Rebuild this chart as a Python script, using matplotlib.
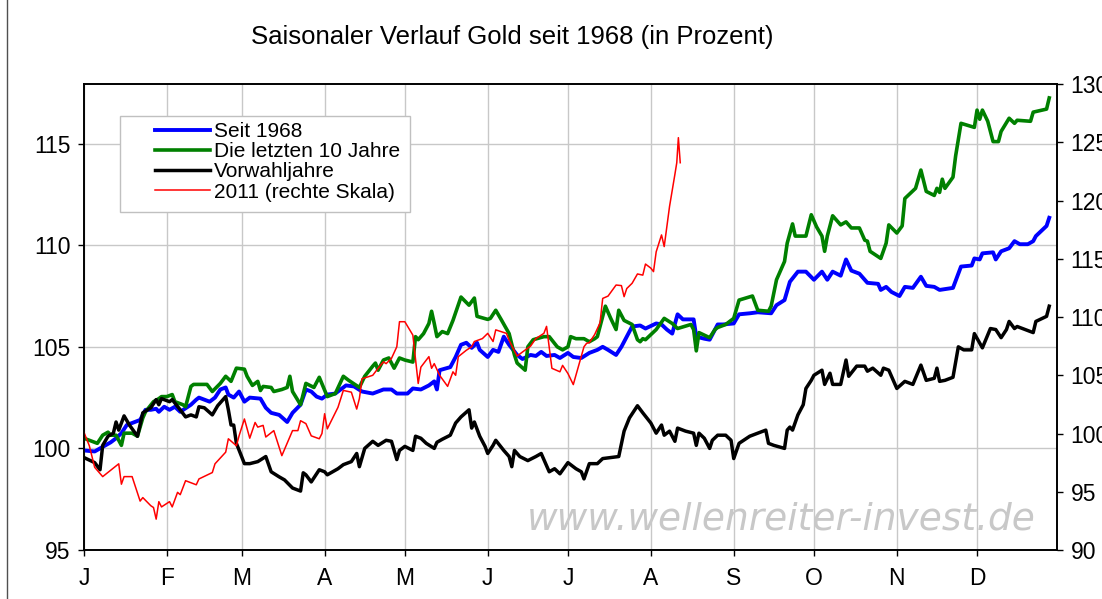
import matplotlib
matplotlib.use('Agg')
import matplotlib.pyplot as plt
from matplotlib.patches import Rectangle
from matplotlib.lines import Line2D

plt.rcParams['font.family'] = ['Liberation Sans', 'DejaVu Sans']

# day of year -> value (left scale, percent)
blue_days = [0, 4, 6, 10, 12, 14, 16, 18, 21, 23, 25, 27, 28, 30, 32, 34, 36, 40, 42, 43, 45, 47, 49, 51, 53, 54,
             56, 58, 60, 62, 66, 68, 70, 73, 76, 78, 81, 83, 85, 87, 89, 91, 94, 98, 101, 104, 108, 112, 115, 117,
             121, 123, 126, 129, 131, 132, 133, 137, 139, 141, 143, 145, 147, 148, 151, 153, 155, 157, 159, 162,
             164, 167, 169, 171, 173, 176, 178, 181, 183, 186, 189, 192, 194, 196, 199, 201, 205, 208, 210, 214,
             216, 218, 220, 222, 224, 228, 229, 232, 234, 237, 239, 243, 245, 249, 252, 257, 259, 262, 264, 267,
             270, 273, 276, 278, 280, 283, 285, 287, 290, 293, 297, 298, 300, 302, 305, 307, 310, 313, 315, 318,
             320, 325, 328, 332, 333, 335, 336, 340, 341, 343, 346, 348, 350, 353, 355, 356, 360, 361]
blue_vals = [99.9, 99.85, 100.0, 100.3, 100.5, 100.75, 101.15, 101.25, 101.4, 101.9, 101.9, 101.95, 101.8, 102.05,
             101.9, 102.05, 101.8, 102.15, 102.4, 102.5, 102.4, 102.3, 102.5, 102.9, 103.0, 102.65, 102.5, 102.8,
             102.3, 102.5, 102.45, 102.0, 101.75, 101.65, 101.3, 101.75, 102.15, 102.9, 102.8, 102.55, 102.45,
             102.65, 102.7, 103.1, 103.05, 102.8, 102.7, 102.9, 102.9, 102.7, 102.7, 102.95, 102.9, 103.1, 103.3,
             102.9, 103.85, 104.0, 104.5, 105.1, 105.2, 104.95, 105.2, 104.85, 104.5, 104.85, 104.75, 105.5, 105.1,
             104.6, 104.4, 104.6, 104.55, 104.75, 104.55, 104.6, 104.45, 104.7, 104.5, 104.45, 104.7, 104.85, 105.0,
             104.85, 104.6, 105.0, 106.0, 106.05, 105.9, 106.15, 106.1, 105.85, 105.65, 106.6, 106.35, 106.35,
             105.5, 105.4, 105.35, 106.1, 106.1, 106.15, 106.6, 106.65, 106.7, 106.65, 107.05, 107.3, 108.2, 108.7,
             108.7, 108.3, 108.7, 108.3, 108.7, 108.5, 109.3, 108.75, 108.6, 108.15, 108.1, 107.8, 107.95, 107.7,
             107.5, 107.95, 107.9, 108.45, 108.0, 107.95, 107.8, 107.9, 108.95, 109.0, 109.35, 109.3, 109.6, 109.65,
             109.3, 109.7, 109.85, 110.2, 110.05, 110.05, 110.2, 110.45, 110.95, 111.35]

green_days = [0, 3, 5, 7, 9, 10, 12, 14, 15, 18, 20, 22, 23, 26, 28, 29, 31, 33, 34, 37, 38, 40, 41, 46, 48, 51, 53,
              55, 57, 60, 61, 63, 65, 66, 67, 70, 71, 74, 76, 77, 78, 81, 83, 86, 88, 91, 94, 97, 99, 103, 105, 108,
              109, 110, 112, 114, 116, 118, 120, 123, 124, 125, 127, 129, 130, 131, 132, 134, 136, 138, 141, 144,
              146, 147, 151, 152, 154, 156, 159, 161, 162, 165, 166, 168, 172, 174, 177, 179, 181, 182, 184, 187,
              189, 191, 192, 195, 197, 199, 200, 202, 205, 207, 208, 209, 210, 214, 217, 220, 222, 227, 228, 229,
              230, 234, 236, 237, 240, 243, 245, 250, 252, 256, 257, 259, 262, 263, 265, 266, 270, 272, 274, 276,
              277, 278, 280, 283, 285, 287, 290, 292, 293, 294, 298, 300, 301, 304, 306, 307, 309, 311, 313, 315,
              318, 319, 320, 321, 322, 325, 326, 328, 333, 334, 335, 336, 338, 340, 342, 343, 346, 348, 349, 354,
              355, 360, 361]
green_vals = [100.5, 100.35, 100.25, 100.65, 100.8, 100.65, 100.65, 100.15, 100.75, 100.75, 100.6, 101.5, 101.8,
              102.3, 102.45, 102.55, 102.55, 102.65, 102.3, 102.15, 102.05, 103.05, 103.15, 103.15, 102.8, 103.2,
              103.55, 103.3, 103.95, 103.9, 103.55, 103.1, 103.3, 102.85, 103.05, 103.0, 102.8, 102.9, 103.0, 103.55,
              102.8, 102.15, 103.2, 103.0, 103.5, 102.55, 102.7, 103.55, 103.35, 103.0, 103.55, 104.05, 104.2,
              103.85, 104.35, 104.45, 103.95, 104.45, 104.35, 104.25, 105.5, 105.35, 105.65, 106.15, 106.75, 106.15,
              105.5, 105.75, 105.65, 106.3, 107.45, 107.05, 107.4, 106.5, 106.35, 106.4, 106.8, 106.35, 105.65,
              104.6, 104.2, 103.85, 105.0, 105.35, 105.5, 105.5, 105.0, 104.85, 105.0, 105.5, 105.4, 105.4, 105.25,
              105.4, 105.5, 107.0, 106.4, 105.85, 106.8, 106.3, 106.1, 105.35, 105.25, 105.4, 105.35, 105.85, 106.4,
              106.15, 105.9, 106.1, 105.85, 104.8, 105.7, 105.45, 105.85, 105.95, 106.1, 106.4, 107.3, 107.5, 106.8,
              106.75, 107.0, 108.3, 109.2, 110.1, 111.05, 110.45, 110.45, 111.5, 110.9, 110.45, 109.7, 110.45,
              111.45, 111.0, 111.15, 110.85, 110.85, 110.25, 110.2, 109.7, 109.35, 110.1, 111.0, 110.6, 110.95,
              112.3, 112.55, 112.8, 113.7, 112.65, 112.45, 112.8, 112.6, 113.25, 112.8, 113.35, 114.4, 116.0, 115.8,
              116.65, 116.2, 116.65, 116.1, 115.1, 115.1, 115.6, 116.25, 116.0, 116.15, 116.1, 116.55, 116.7, 117.25]

black_days = [0, 4, 6, 7, 9, 11, 12, 13, 15, 17, 20, 22, 25, 27, 28, 29, 32, 33, 36, 38, 40, 42, 43, 45, 48, 50, 53,
              54, 55, 56, 57, 60, 62, 65, 68, 70, 73, 75, 78, 81, 82, 83, 85, 88, 90, 91, 95, 97, 100, 102, 103, 105,
              108, 110, 113, 115, 117, 118, 120, 123, 124, 126, 128, 131, 132, 134, 137, 139, 141, 144, 145, 146,
              148, 150, 151, 153, 154, 157, 159, 160, 161, 163, 166, 169, 171, 174, 176, 178, 181, 184, 186, 187,
              189, 192, 194, 200, 202, 204, 207, 209, 212, 214, 216, 217, 219, 221, 222, 225, 228, 229, 230, 232,
              234, 235, 237, 240, 242, 243, 245, 249, 252, 255, 256, 258, 262, 263, 264, 265, 267, 269, 270, 272,
              273, 276, 277, 279, 280, 283, 285, 286, 289, 292, 293, 295, 298, 299, 301, 304, 307, 310, 313, 315,
              318, 319, 320, 322, 325, 327, 329, 332, 333, 336, 339, 341, 343, 345, 346, 348, 349, 355, 356, 360,
              361]
black_vals = [99.55, 99.3, 98.95, 100.15, 100.6, 100.75, 101.3, 100.9, 101.6, 101.15, 100.6, 101.75, 102.0, 102.4,
              102.15, 102.45, 102.3, 102.4, 101.9, 101.55, 101.65, 101.55, 102.05, 102.0, 101.65, 102.1, 102.55,
              101.9, 101.15, 101.15, 100.25, 99.25, 99.25, 99.35, 99.6, 98.85, 98.6, 98.45, 98.05, 97.9, 98.8, 98.7,
              98.35, 98.95, 98.85, 98.7, 99.0, 99.2, 99.35, 99.75, 99.1, 100.0, 100.35, 100.15, 100.4, 100.35, 99.45,
              99.9, 100.1, 99.9, 100.6, 100.5, 100.25, 100.0, 100.3, 100.45, 100.65, 101.25, 101.55, 101.9, 101.0,
              101.3, 100.6, 100.1, 99.75, 100.15, 100.4, 99.9, 99.6, 99.1, 99.9, 99.6, 99.4, 99.6, 99.75, 98.85,
              99.0, 98.75, 99.3, 99.0, 98.85, 98.5, 99.25, 99.25, 99.5, 99.6, 100.85, 101.5, 102.1, 101.75, 101.25,
              100.75, 101.15, 100.65, 100.85, 100.35, 101.0, 100.85, 100.75, 100.15, 100.75, 100.5, 100.0, 100.4,
              100.65, 100.65, 100.4, 99.5, 100.25, 100.6, 100.75, 100.9, 100.25, 100.15, 100.0, 100.9, 101.05, 100.9,
              101.65, 102.15, 102.95, 103.35, 103.6, 103.85, 103.15, 103.7, 103.15, 103.15, 104.35, 103.55, 104.05,
              104.05, 103.8, 103.95, 103.6, 103.95, 103.85, 102.95, 103.3, 103.15, 104.1, 103.35, 103.45, 103.95,
              103.3, 103.35, 103.5, 105.0, 104.85, 104.85, 105.65, 104.95, 105.9, 105.85, 105.45, 105.85, 106.25,
              105.9, 106.0, 105.7, 106.25, 106.5, 107.0]

# 2011 (right scale)
red_days = [0, 2, 4, 7, 13, 14, 15, 18, 21, 22, 25, 26, 27, 28, 29, 32, 33, 35, 36, 38, 42, 43, 48, 49, 53, 54, 57,
            58, 60, 62, 64, 65, 67, 68, 71, 74, 78, 80, 81, 83, 85, 88, 89, 90, 91, 95, 97, 100, 102, 103, 104, 108,
            110, 112, 113, 115, 117, 118, 120, 123, 125, 126, 129, 130, 131, 133, 136, 138, 139, 140, 143, 145, 146,
            149, 151, 153, 154, 158, 159, 162, 164, 167, 169, 172, 173, 175, 178, 179, 181, 183, 187, 188, 189, 191,
            193, 194, 196, 199, 201, 202, 203, 205, 207, 209, 210, 212, 213, 214, 216, 217, 219, 221, 221.7, 222.3,
            223]
red_vals = [100.1, 98.95, 97.1, 96.3, 97.4, 95.65, 96.3, 96.3, 94.2, 94.5, 93.8, 93.65, 92.65, 94.15, 93.7, 94.15,
            93.7, 94.95, 94.75, 95.95, 95.6, 96.1, 96.65, 97.4, 98.4, 99.55, 98.95, 99.8, 101.25, 99.6, 100.95,
            100.55, 100.7, 99.7, 100.25, 98.1, 100.25, 100.25, 101.1, 100.85, 99.8, 99.55, 100.0, 101.7, 100.4,
            102.25, 103.7, 103.55, 102.1, 103.0, 104.7, 105.0, 105.6, 106.15, 106.0, 106.45, 107.45, 109.6, 109.6,
            108.45, 104.3, 105.7, 106.6, 105.6, 106.0, 105.0, 104.05, 105.3, 105.0, 106.6, 107.15, 107.45, 107.9,
            108.15, 108.6, 107.9, 108.9, 108.6, 108.0, 106.65, 107.0, 107.5, 108.15, 108.6, 109.2, 105.6, 105.3,
            105.85, 105.15, 104.2, 107.45, 107.75, 107.8, 108.5, 109.5, 111.6, 111.8, 112.75, 112.7, 111.75, 112.45,
            112.9, 113.7, 113.6, 114.55, 114.2, 113.9, 115.6, 117.05, 116.05, 119.5, 122.25, 123.25, 125.4, 123.25]

month_starts = [0, 31, 59, 90, 120, 151, 181, 212, 243, 273, 304, 334]
month_labels = ['J', 'F', 'M', 'A', 'M', 'J', 'J', 'A', 'S', 'O', 'N', 'D']

fig = plt.figure(figsize=(11.02, 5.99), dpi=100)
ax = fig.add_axes([0.0762, 0.0818, 0.8832, 0.7778])
ax2 = ax.twinx()

ax.plot(blue_days, blue_vals, color='#0000ff', lw=2.8, label='Seit 1968', zorder=3)
ax.plot(green_days, green_vals, color='#008000', lw=2.6, label='Die letzten 10 Jahre', zorder=4)
ax.plot(black_days, black_vals, color='black', lw=2.5, label='Vorwahljahre', zorder=5)
ax2.plot(red_days, red_vals, color='#ff0000', lw=1.1, label='2011 (rechte Skala)')

ax.set_xlim(0, 364)
ax.set_ylim(95, 117.93)
ax2.set_ylim(90, 130)
ax.set_xticks(month_starts)
ax.set_xticklabels(month_labels)
ax.set_yticks([95, 100, 105, 110, 115])
ax2.set_yticks(range(90, 131, 5))

ax.grid(True, color='#c8c8c8', lw=1)
ax.set_axisbelow(True)
ax.tick_params(axis='both', direction='out', length=4.5, width=1, labelsize=16.5)
ax.tick_params(axis='y', pad=5)
ax.tick_params(axis='x', pad=8)
ax2.tick_params(axis='y', direction='out', length=4.5, width=1, labelsize=16.5, pad=5)
for a in (ax, ax2):
    for s in a.spines.values():
        s.set_linewidth(1.2)

# legend with its own box
ax2.add_patch(Rectangle((0.037, 0.725), 0.298, 0.206, transform=ax2.transAxes,
                        facecolor='white', edgecolor='#c0c0c0', lw=1, zorder=8))
handles = ax.get_lines() + ax2.get_lines()
leg = ax2.legend(handles, [h.get_label() for h in handles], loc='upper left',
                 bbox_to_anchor=(0.073, 0.919), borderaxespad=0, borderpad=0,
                 frameon=False, fontsize=15, handlelength=2.65, handletextpad=0.2,
                 labelspacing=0.06)
leg.set_zorder(9)

ax.text(0.716, 0.066, 'www.wellenreiter-invest.de', transform=ax.transAxes,
        ha='center', va='center', fontsize=27, style='italic', color='#c8c8c8',
        family='DejaVu Sans', zorder=2)

fig.text(0.465, 0.938, 'Saisonaler Verlauf Gold seit 1968 (in Prozent)',
         ha='center', va='center', fontsize=18.5)
fig.add_artist(Line2D([0.0068, 0.0068], [0, 1], transform=fig.transFigure, color='#505050', lw=1))

fig.savefig('out.png', dpi=100)
